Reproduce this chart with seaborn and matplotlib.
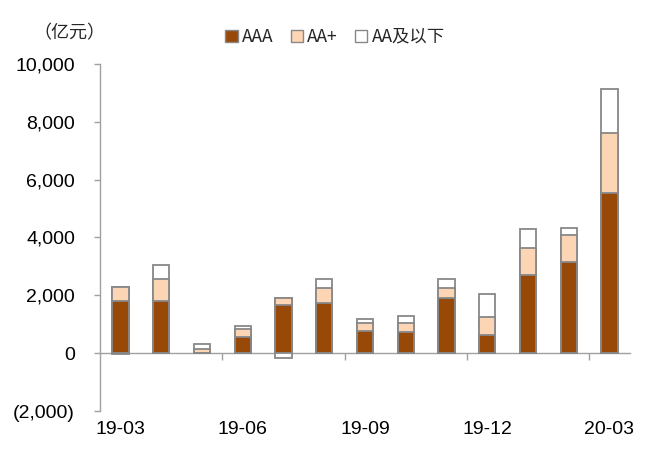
import matplotlib
matplotlib.use("Agg")
import matplotlib.pyplot as plt
import matplotlib.ticker as mticker
from matplotlib.patches import Patch
import numpy as np
import pandas as pd
import seaborn as sns

# Monthly issuance by rating (亿元)
months = ["19-03", "19-04", "19-05", "19-06", "19-07", "19-08", "19-09",
          "19-10", "19-11", "19-12", "20-01", "20-02", "20-03"]
aaa = [1810, 1800, 0, 550, 1660, 1720, 760, 715, 1915, 620, 2710, 3140, 5540]
aa_plus = [470, 780, 140, 270, 255, 550, 300, 335, 345, 625, 910, 955, 2080]
aa_below = [-40, 460, 180, 125, -150, 300, 130, 230, 300, 805, 680, 240, 1500]

series_names = ["AAA", "AA+", "AA及以下"]
colors = {"AAA": "#984807", "AA+": "#FCD5B5", "AA及以下": "#FFFFFF"}
edge = "#888888"

sns.set_theme(style="white")
plt.rcParams["font.family"] = ["Liberation Sans", "Noto Sans CJK SC", "DejaVu Sans"]

df = pd.DataFrame({"month": months, "AAA": aaa, "AA+": aa_plus, "AA及以下": aa_below})

# stack positives upward and negatives downward, Excel-style
vals = df[series_names].to_numpy(dtype=float)
pos = np.clip(vals, 0, None).cumsum(axis=1)
neg = np.clip(vals, None, 0).cumsum(axis=1)

fig = plt.figure(figsize=(6.52, 4.49), dpi=100)
ax = fig.add_axes([0.1534, 0.0846, 0.8126, 0.7729])

bar_kw = dict(order=months, width=0.4, edgecolor=edge, linewidth=1.3, ax=ax)
for i in reversed(range(len(series_names))):
    name = series_names[i]
    sns.barplot(x=df["month"], y=pos[:, i], color=colors[name], saturation=1, **bar_kw)
for i in reversed(range(len(series_names))):
    name = series_names[i]
    if np.any(neg[:, i] < 0):
        sns.barplot(x=df["month"], y=neg[:, i], color=colors[name], saturation=1, **bar_kw)

ax.set_xlim(-0.5, len(months) - 0.5)
ax.set_ylim(-2000, 10000)
ax.set_xlabel("")
ax.set_ylabel("")

ax.yaxis.set_major_locator(mticker.MultipleLocator(2000))
ax.yaxis.set_major_formatter(mticker.FuncFormatter(
    lambda v, p: f"({abs(v):,.0f})" if v < 0 else f"{v:,.0f}"))
ax.tick_params(axis="y", which="major", left=True, length=4, width=1,
               color="#A0A0A0", pad=14, labelsize=14, labelcolor="black")

ax.set_xticks(range(0, len(months), 3))
ax.set_xticklabels(months[::3])
ax.tick_params(axis="x", which="major", bottom=False, length=0, pad=7,
               labelsize=14, labelcolor="black")

for s in ["top", "right", "bottom"]:
    ax.spines[s].set_visible(False)
ax.spines["left"].set_color("#A0A0A0")
ax.spines["left"].set_linewidth(1)

# category axis drawn along the zero line, with ticks between quarters
zero_frac = (0 - (-2000)) / 12000
sec = ax.secondary_xaxis(zero_frac)
sec.set_xticks([2.5, 5.5, 8.5, 11.5])
sec.set_xticklabels([])
sec.tick_params(axis="x", direction="out", length=5, width=1, color="#A0A0A0")
sec.spines["bottom"].set_color("#A0A0A0")
sec.spines["bottom"].set_linewidth(1)

handles = [Patch(facecolor=colors[n], edgecolor=edge, linewidth=1) for n in series_names]
fig.legend(handles, series_names, loc="center", bbox_to_anchor=(0.514, 0.918),
           ncol=3, frameon=False, handlelength=0.7, handleheight=0.7,
           handletextpad=0.25, columnspacing=1.0,
           prop={"family": ["Noto Sans CJK SC", "DejaVu Sans"], "size": 12.5})

fig.text(0.107, 0.926, "（亿元）", ha="center", va="center", fontsize=13,
         family=["Noto Sans CJK SC", "DejaVu Sans"])

fig.savefig("out.png", dpi=100)
